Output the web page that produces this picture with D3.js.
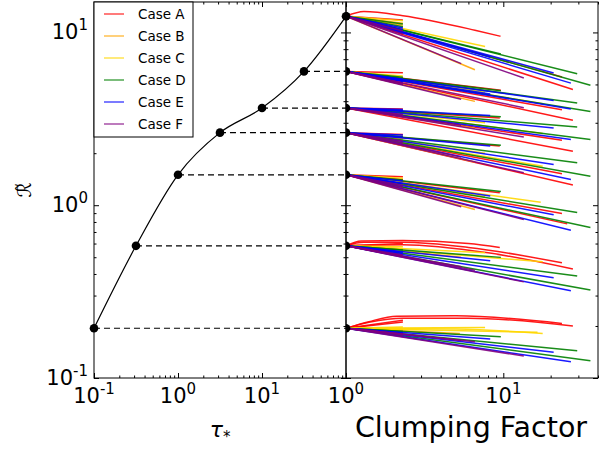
<!DOCTYPE html>
<html>
<head>
<meta charset="utf-8">
<script src="https://cdn.jsdelivr.net/npm/d3@7"></script>
<style>
  html, body { margin: 0; padding: 0; background: #fff; }
  svg { display: block; font-family: "DejaVu Sans", sans-serif; }
</style>
</head>
<body>
<svg id="chart" width="609" height="451"></svg>
<script>
// Calibration curve: R~ against tau_*
const tauStar = [0.1, 0.316, 1, 3.16, 10, 31.6, 100];
const rTilde  = [0.194, 0.582, 1.5, 2.63, 3.65, 5.95, 12.4];

const caseNames  = ["Case A", "Case B", "Case C", "Case D", "Case E", "Case F"];
const caseKeys   = ["A", "B", "C", "D", "E", "F"];
const caseColors = ["#ff0000", "#ffa500", "#ffd700", "#008000", "#0000ff", "#800080"];

// Runs against clumping factor; each run starts at (1, R~ of its group),
// followed by the points it passes through.
const runsR0194 = [
  ["A", [1.4, 0.212], [2.1, 0.228], [5.0, 0.229], [23.6, 0.207]],
  ["A", [1.4, 0.21], [2.3, 0.222], [6.0, 0.222], [27.7, 0.2]],
  ["A", [2.3, 0.211]], ["A", [2.3, 0.216]],
  ["B", [2.3, 0.19]], ["B", [2.3, 0.188]], ["B", [5.3, 0.181]],
  ["C", [2.3, 0.197]], ["C", [7.66, 0.196]], ["C", [5.0, 0.192], [17.8, 0.181]], ["C", [16.5, 0.184]],
  ["D", [2.3, 0.186]], ["D", [9.65, 0.173]], ["D", [29.5, 0.144]], ["D", [35.8, 0.126]],
  ["E", [2.3, 0.182]], ["E", [2.3, 0.179]], ["E", [8.26, 0.168]], ["E", [20.9, 0.141]], ["E", [26.9, 0.124]],
  ["F", [2.3, 0.18]], ["F", [2.3, 0.177]], ["F", [5.4, 0.165]], ["F", [6.6, 0.162]], ["F", [13.5, 0.134]]
];
const runsR0582 = [
  ["A", [1.25, 0.62], [2.3, 0.625], [6.0, 0.6], [9.5, 0.57]],
  ["A", [1.3, 0.61], [2.3, 0.61], [6.0, 0.57], [23.6, 0.464]],
  ["A", [2.3, 0.59], [8.0, 0.53], [27.7, 0.427]],
  ["A", [2.3, 0.6]],
  ["B", [2.3, 0.56]], ["B", [2.3, 0.545]], ["B", [5.4, 0.5]],
  ["C", [2.3, 0.575]], ["C", [7.66, 0.53]], ["C", [17.8, 0.47]],
  ["D", [2.3, 0.55]], ["D", [9.65, 0.499]], ["D", [29.5, 0.389]], ["D", [35.8, 0.323]],
  ["E", [2.3, 0.535]], ["E", [2.3, 0.525]], ["E", [8.26, 0.477]], ["E", [20.9, 0.38]], ["E", [26.9, 0.32]],
  ["F", [2.3, 0.515]], ["F", [2.3, 0.505]], ["F", [5.4, 0.44]], ["F", [6.6, 0.42]], ["F", [13.5, 0.36]]
];
const runsR150 = [
  ["A", [2.3, 1.46]], ["A", [2.3, 1.41]], ["A", [9.5, 1.18]], ["A", [23.6, 0.895]], ["A", [25.5, 0.78]],
  ["B", [2.3, 1.36]], ["B", [2.3, 1.31]], ["B", [6.6, 0.944]],
  ["C", [2.3, 1.43]], ["C", [7.66, 1.12]], ["C", [17.3, 1.04]],
  ["D", [2.3, 1.4]], ["D", [9.65, 1.2]], ["D", [29.5, 0.908]], ["D", [35.8, 0.743]],
  ["E", [2.3, 1.38]], ["E", [2.3, 1.33]], ["E", [8.26, 1.13]], ["E", [20.9, 0.88]], ["E", [26.9, 0.716]],
  ["F", [2.3, 1.3]], ["F", [2.3, 1.27]], ["F", [5.4, 0.98]], ["F", [13.5, 0.826]]
];
const runsR263 = [
  ["A", [2.3, 2.57]], ["A", [9.5, 2.2]], ["A", [23.6, 1.52]], ["A", [27.7, 1.31]],
  ["B", [2.3, 2.42]], ["B", [2.3, 2.36]], ["B", [6.6, 1.78]],
  ["C", [2.3, 2.5]], ["C", [7.66, 2.0]], ["C", [17.8, 1.68]],
  ["D", [2.3, 2.5]], ["D", [9.65, 2.22]], ["D", [29.5, 1.76]], ["D", [35.8, 1.47]],
  ["E", [2.3, 2.55]], ["E", [2.3, 2.48]], ["E", [8.26, 2.2]], ["E", [20.9, 1.72]], ["E", [26.9, 1.41]],
  ["F", [2.3, 2.35]], ["F", [2.3, 2.3]], ["F", [5.4, 1.9]], ["F", [13.5, 1.54]]
];
const runsR365 = [
  ["A", [2.3, 3.6]], ["A", [9.5, 3.2]], ["A", [23.6, 2.38]], ["A", [27.7, 2.05]],
  ["B", [2.3, 3.45]], ["B", [6.6, 2.79]],
  ["C", [2.3, 3.5]], ["C", [7.66, 3.0]], ["C", [17.8, 2.6]],
  ["D", [2.3, 3.52]], ["D", [9.65, 3.25]], ["D", [29.5, 2.84]], ["D", [35.8, 2.4]],
  ["E", [2.3, 3.58]], ["E", [2.3, 3.5]], ["E", [8.26, 3.31]], ["E", [20.9, 2.8]], ["E", [26.9, 2.4]],
  ["F", [2.3, 3.35]], ["F", [2.3, 3.3]], ["F", [5.4, 2.9]], ["F", [13.5, 2.48]]
];
const runsR595 = [
  ["A", [2.3, 5.85]], ["A", [9.65, 4.63]], ["A", [23.6, 3.57]], ["A", [27.7, 3.1]],
  ["B", [2.3, 5.45]], ["B", [2.3, 5.25]], ["B", [6.6, 3.99]],
  ["C", [2.3, 5.6]], ["C", [7.66, 4.5]], ["C", [17.8, 3.87]],
  ["D", [2.3, 5.5]], ["D", [9.65, 4.6]], ["D", [29.5, 3.9]], ["D", [35.8, 3.49]],
  ["E", [2.3, 5.35]], ["E", [2.3, 5.2]], ["E", [8.26, 4.4]], ["E", [20.9, 4.04]], ["E", [26.9, 3.6]],
  ["F", [2.3, 5.1]], ["F", [2.3, 5.0]], ["F", [5.4, 4.1]], ["F", [13.5, 3.67]]
];
const runsR124 = [
  ["A", [1.3, 13.2], [2.3, 12.5], [6.6, 10.3], [9.6, 9.5]], ["A", [2.3, 11.8]], ["A", [23.6, 5.52]], ["A", [27.7, 4.67]],
  ["B", [2.3, 11.3]], ["B", [2.3, 11.0]], ["B", [6.6, 6.08]],
  ["C", [2.3, 11.7]], ["C", [7.66, 8.3]], ["C", [17.8, 6.0]],
  ["D", [2.3, 11.2]], ["D", [2.3, 10.8]], ["D", [9.65, 7.5]], ["D", [29.5, 5.77]], ["D", [35.8, 4.94]],
  ["E", [2.3, 10.6]], ["E", [2.3, 10.4]], ["E", [8.26, 7.2]], ["E", [20.9, 5.82]], ["E", [26.9, 5.09]],
  ["F", [2.3, 10.2]], ["F", [2.3, 9.8]], ["F", [5.4, 6.6]], ["F", [13.5, 5.45]]
];
const runGroups = [runsR0194, runsR0582, runsR150, runsR263, runsR365, runsR595, runsR124];

// Axis ticks
const yMajor = [0.1, 1, 10];
const yMinor = [0.2,0.3,0.4,0.5,0.6,0.7,0.8,0.9,2,3,4,5,6,7,8,9];
const xLeftMajor = [0.1, 1, 10, 100];
const xLeftMinor = [0.2,0.3,0.4,0.5,0.6,0.7,0.8,0.9,2,3,4,5,6,7,8,9,20,30,40,50,60,70,80,90];
const xLeftLabels = [[0.1, "10", "-1"], [1, "10", "0"], [10, "10", "1"]];
const xRightMajor = [1, 10];
const xRightMinor = [2,3,4,5,6,7,8,9,20,30,40];
const xRightLabels = [[1, "10", "0"], [10, "10", "1"]];
const yLabels = [[10, "10", "1"], [1, "10", "0"], [0.1, "10", "-1"]];

// Panel geometry
const plotTop = 2, plotBottom = 378, lx0 = 94, lx1 = 346, rx1 = 598;

const svg = d3.select("#chart");
const y = d3.scaleLog().domain([0.1, 15]).range([plotBottom, plotTop]);
const xL = d3.scaleLog().domain([0.1, 100]).range([lx0, lx1]);
const xR = d3.scaleLog().domain([1, 40]).range([lx1, rx1]);

const defs = svg.append("defs");
defs.append("clipPath").attr("id", "clipL").append("rect")
  .attr("x", lx0).attr("y", plotTop).attr("width", lx1 - lx0).attr("height", plotBottom - plotTop);
defs.append("clipPath").attr("id", "clipR").append("rect")
  .attr("x", lx1).attr("y", plotTop).attr("width", rx1 - lx1).attr("height", plotBottom - plotTop);

// ---- Left panel ----
const gL = svg.append("g");
const pts = tauStar.map((t, i) => [t, rTilde[i]]);

gL.append("g").attr("clip-path", "url(#clipL)")
  .selectAll("line.dash").data(pts).join("line")
  .attr("x1", d => xL(d[0])).attr("x2", xL(100))
  .attr("y1", d => y(d[1])).attr("y2", d => y(d[1]))
  .attr("stroke", "#000").attr("stroke-width", 1.2).attr("stroke-dasharray", "6,4");

gL.append("path").datum(pts)
  .attr("fill", "none").attr("stroke", "#000").attr("stroke-width", 1.2)
  .attr("d", d3.line().x(d => xL(d[0])).y(d => y(d[1])).curve(d3.curveMonotoneX));

gL.selectAll("circle").data(pts).join("circle")
  .attr("cx", d => xL(d[0])).attr("cy", d => y(d[1])).attr("r", 4.3).attr("fill", "#000");

// ---- Right panel ----
const gR = svg.append("g").attr("clip-path", "url(#clipR)");
const runLine = d3.line().x(d => xR(d[0])).y(d => y(d[1])).curve(d3.curveMonotoneX);
runGroups.forEach((runs, gi) => {
  const base = rTilde[gi];
  runs.forEach(r => {
    const ci = caseKeys.indexOf(r[0]);
    const path = [[1, base]].concat(r.slice(1));
    gR.append("path").datum(path)
      .attr("fill", "none")
      .attr("stroke", caseColors[ci])
      .attr("stroke-opacity", 0.9)
      .attr("stroke-width", 1.5)
      .attr("d", runLine);
  });
});
gR.selectAll("circle").data(rTilde).join("circle")
  .attr("cx", xR(1)).attr("cy", d => y(d)).attr("r", 4.3).attr("fill", "#000");

// ---- Axes (ticks pointing inward on all four sides) ----
function ticks(g, axis, vals, size) {
  g.call(axis.tickValues(vals).tickSize(size).tickFormat(""));
  g.select(".domain").remove();
  g.selectAll(".tick line").attr("stroke", "#000").attr("stroke-width", 1);
}
function panelAxes(xs, xMaj, xMin, x0, x1) {
  const g = svg.append("g");
  [[xMaj, 5], [xMin, 2.5]].forEach(([vals, s]) => {
    ticks(g.append("g").attr("transform", `translate(0,${plotBottom})`), d3.axisBottom(xs), vals, -s);
    ticks(g.append("g").attr("transform", `translate(0,${plotTop})`), d3.axisTop(xs), vals, -s);
  });
  [[yMajor, 5], [yMinor, 2.5]].forEach(([vals, s]) => {
    ticks(g.append("g").attr("transform", `translate(${x0},0)`), d3.axisLeft(y), vals, -s);
    ticks(g.append("g").attr("transform", `translate(${x1},0)`), d3.axisRight(y), vals, -s);
  });
  g.append("rect").attr("x", x0).attr("y", plotTop).attr("width", x1 - x0).attr("height", plotBottom - plotTop)
    .attr("fill", "none").attr("stroke", "#000").attr("stroke-width", 1);
}
panelAxes(xL, xLeftMajor, xLeftMinor, lx0, lx1);
panelAxes(xR, xRightMajor, xRightMinor, lx1, rx1);

// Tick labels with exponents
function powLabel(x, yy, anchor, base, exp) {
  const t = svg.append("text").attr("x", x).attr("y", yy).attr("text-anchor", anchor)
    .attr("font-size", 21).attr("fill", "#000");
  t.append("tspan").text(base);
  t.append("tspan").attr("font-size", 15).attr("dy", -9).text(exp);
}
xLeftLabels.forEach(([v, b, e]) => powLabel(xL(v), 403, "middle", b, e));
xRightLabels.forEach(([v, b, e]) => powLabel(xR(v), 403, "middle", b, e));
yLabels.forEach(([v, b, e]) => powLabel(88, y(v) + 7, "end", b, e));

// Axis titles
const tauT = svg.append("text").attr("x", 220).attr("y", 437).attr("text-anchor", "middle")
  .attr("font-size", 22).attr("font-style", "italic").attr("fill", "#000");
tauT.append("tspan").text("τ");
tauT.append("tspan").attr("font-size", 15).attr("dy", 5).attr("font-style", "normal").text("*");

svg.append("text").attr("x", 471).attr("y", 437).attr("text-anchor", "middle")
  .attr("font-size", 28.5).attr("fill", "#000").text("Clumping Factor");

svg.append("text").attr("transform", `translate(31,${(plotTop + plotBottom) / 2}) rotate(-90)`)
  .attr("text-anchor", "middle").attr("font-size", 19).attr("fill", "#000")
  .text("\u211B\u0303");

// Legend
const leg = svg.append("g");
leg.append("rect").attr("x", lx0).attr("y", plotTop).attr("width", 99).attr("height", 135)
  .attr("fill", "#fff").attr("stroke", "#000").attr("stroke-width", 1);
caseNames.forEach((name, i) => {
  const ly = 14 + i * 22;
  leg.append("line").attr("x1", 104).attr("x2", 124).attr("y1", ly).attr("y2", ly)
    .attr("stroke", caseColors[i]).attr("stroke-opacity", 0.8).attr("stroke-width", 1.3);
  leg.append("text").attr("x", 138).attr("y", ly + 5).attr("font-size", 13.5)
    .attr("fill", "#000").text(name);
});
</script>
</body>
</html>
